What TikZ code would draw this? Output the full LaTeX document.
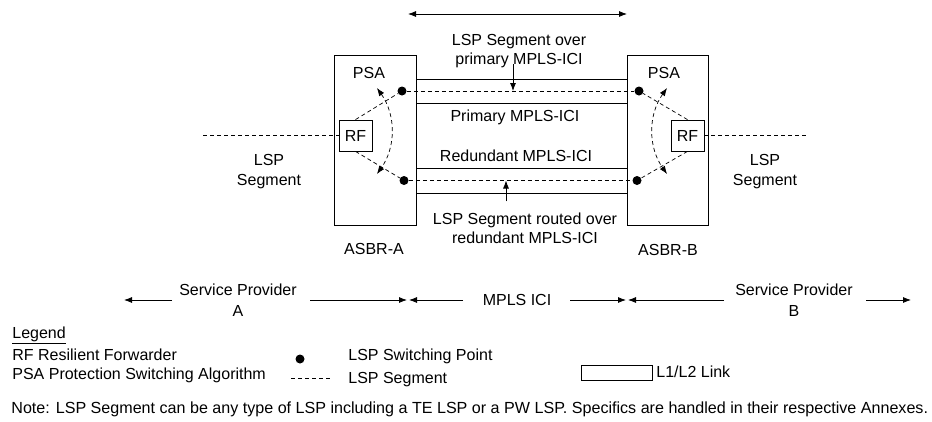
\documentclass[tikz,border=0pt]{standalone}
\usepackage{fontspec}
\setmainfont{Liberation Sans}
\usetikzlibrary{arrows.meta}
\begin{document}
\begin{tikzpicture}[x=1pt,y=-1pt,
  font=\fontsize{16}{19.5}\selectfont,
  line width=0.8pt,
  tip/.style={-{Latex[length=8pt,width=6pt]}},
  twotip/.style={{Latex[length=8pt,width=6pt]}-{Latex[length=8pt,width=6pt]}},
  seg/.style={line width=0.7pt,dash pattern=on 4pt off 3pt},
  router/.style={draw,inner sep=0,minimum height=170pt},
  link/.style={draw,inner sep=0,minimum width=211pt},
  rfbox/.style={draw,inner sep=0,minimum width=33pt,minimum height=31pt},
  swpt/.style={circle,fill,inner sep=0,minimum size=9pt},
  lbl/.style={inner sep=0,align=center,text height=11.5pt,text depth=3.4pt},
  mlbl/.style={inner sep=0,align=center},
  lft/.style={inner sep=0,anchor=west,text height=11.5pt,text depth=3.4pt}]
\useasboundingbox (0,0) rectangle (932,421);

% span of the interconnect
\coordinate (spanL) at (408,14);
\coordinate (spanR) at (627,14);
\draw[twotip] (spanL) -- (spanR);

% ASBR routers
\node[router,minimum width=82pt] (asbrA) at (375,140) {};
\node[router,minimum width=81pt] (asbrB) at (667.5,140) {};
\node[lbl] (psaA) at (369,74) {PSA};
\node[lbl] (psaB) at (664,74) {PSA};
\node[lbl] (nameA) at (374,250) {ASBR-A};
\node[lbl] (nameB) at (668,251) {ASBR-B};

% L1/L2 links between the routers
\node[link,minimum height=24pt] (prim) at (521.5,91) {};
\node[link,minimum height=25pt] (red) at (521.5,180.5) {};
\node[lbl] (primTxt) at (515,117) {Primary MPLS-ICI};
\node[lbl] (redTxt) at (516,157) {Redundant MPLS-ICI};

% resilient forwarders
\node[rfbox] (rfA) at (355.5,135.5) {RF};
\node[rfbox] (rfB) at (687.5,135.5) {RF};

% LSP switching points
\node[swpt] (dA1) at (402,91) {};
\node[swpt] (dA2) at (404,180.5) {};
\node[swpt] (dB1) at (639,91) {};
\node[swpt] (dB2) at (637,180.5) {};

% LSP segments
\coordinate (segL) at (203,135.5);
\coordinate (segR) at (807,135.5);
\draw[seg] (segL) -- (rfA.west);
\draw[seg] (rfB.east) -- (segR);
\draw[seg] (dA1) -- (dB1);
\draw[seg] (dA2) -- (dB2);
\draw[seg] (rfA.north) -- (dA1);
\draw[seg] (rfA.south) -- (dA2);
\draw[seg] (rfB.north) -- (dB1);
\draw[seg] (rfB.south) -- (dB2);

% protection switching
\coordinate (swA1) at (377,88);
\coordinate (swA2) at (377,174);
\coordinate (swB1) at (667,88);
\coordinate (swB2) at (667,174);
\draw[seg,twotip] (swA1) .. controls (396,115) and (396,147) .. (swA2);
\draw[seg,twotip] (swB1) .. controls (648,115) and (648,147) .. (swB2);

\node[mlbl] (segTxtA) at (269,171.5) {LSP\\Segment};
\node[mlbl] (segTxtB) at (765,171.5) {LSP\\Segment};

% segment labels with pointers
\node[mlbl] (overP) at (519,51) {LSP Segment over\\primary MPLS-ICI};
\coordinate (pTop) at (513,64);
\coordinate (pHit) at (513,91);
\draw[tip] (pTop) -- (pHit);

\node[mlbl,fill=white,inner xsep=10pt,inner ysep=11pt] (overR) at (525,228.4) {LSP Segment routed over\\redundant MPLS-ICI};
\coordinate (rHit) at (506,180.5);
\draw[tip] (overR.north -| rHit) -- (rHit);

% administrative domains
\node[mlbl,font=\fontsize{16}{21}\selectfont] (spA) at (238,300.5) {Service Provider\\A};
\node[lbl] (ici) at (517,301) {MPLS ICI};
\node[mlbl,font=\fontsize{16}{21}\selectfont] (spB) at (794,300.5) {Service Provider\\B};
\coordinate (a1s) at (172,300); \coordinate (a1e) at (124,300);
\coordinate (a2s) at (310,300); \coordinate (a2e) at (407,300);
\coordinate (a3s) at (463,300); \coordinate (a3e) at (409,300);
\coordinate (a4s) at (570,300); \coordinate (a4e) at (626,300);
\coordinate (a5s) at (724,300); \coordinate (a5e) at (628,300);
\coordinate (a6s) at (866,300); \coordinate (a6e) at (911,300);
\draw[tip] (a1s) -- (a1e);
\draw[tip] (a2s) -- (a2e);
\draw[tip] (a3s) -- (a3e);
\draw[tip] (a4s) -- (a4e);
\draw[tip] (a5s) -- (a5e);
\draw[tip] (a6s) -- (a6e);

% legend
\node[lft] (legHead) at (12,334) {\underline{Legend}};
\node[lft] (legRF) at (12,356) {RF Resilient Forwarder};
\node[lft] (legPSA) at (12,375) {PSA Protection Switching Algorithm};
\node[swpt] (legDot) at (300,359) {};
\node[lft] (legDotTxt) at (348,356) {LSP Switching Point};
\coordinate (legSegL) at (291,378);
\coordinate (legSegR) at (330,378);
\draw[seg] (legSegL) -- (legSegR);
\node[lft] (legSegTxt) at (348,379) {LSP Segment};
\node[draw,inner sep=0,minimum width=71pt,minimum height=15pt] (legLink) at (616.5,372.5) {};
\node[lft] (legLinkTxt) at (656,373) {L1/L2 Link};

\node[lft,font=\fontsize{16.1}{19.5}\selectfont] (note) at (11,409) {Note: LSP Segment can be any type of LSP including a TE LSP or a PW LSP. Specifics are handled in their respective Annexes.};
\end{tikzpicture}
\end{document}
